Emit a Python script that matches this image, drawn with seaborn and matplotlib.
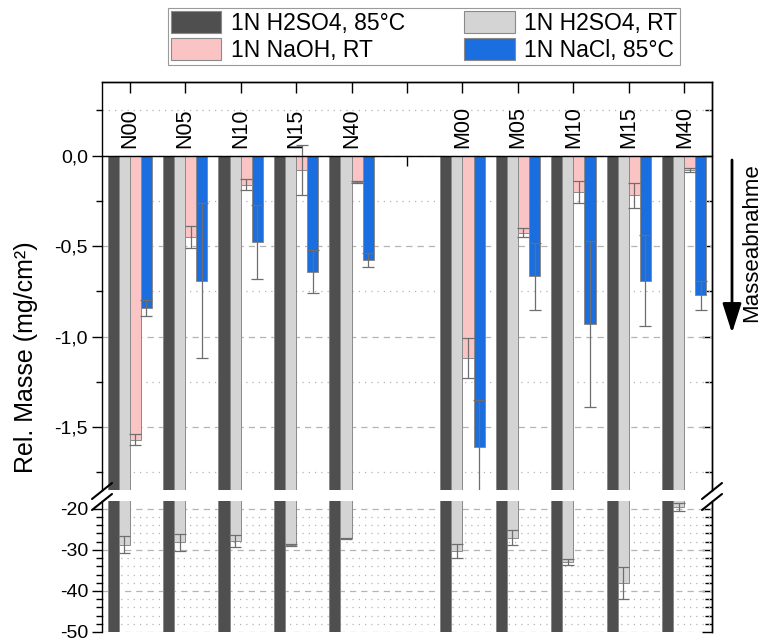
import numpy as np
import pandas as pd
import matplotlib
matplotlib.use("Agg")
import matplotlib.pyplot as plt
import seaborn as sns
from matplotlib.ticker import MultipleLocator, FuncFormatter
from matplotlib.patches import Patch, FancyArrowPatch, ArrowStyle
from matplotlib.lines import Line2D

# ---------------- data ----------------
categories = ["N00", "N05", "N10", "N15", "N40", "M00", "M05", "M10", "M15", "M40"]
gap_label = " "
order = categories[:5] + [gap_label] + categories[5:]

series = ["1N H2SO4, 85°C", "1N H2SO4, RT", "1N NaOH, RT", "1N NaCl, 85°C"]
colors = ["#4f4f4f", "#d4d4d4", "#fbc4c4", "#1a6ee0"]

h2so4_85 = [-52.0, -52.0, -52.0, -52.0, -52.0, -52.0, -52.0, -52.0, -52.0, -52.0]
h2so4_85_err = [0, 0, 0, 0, 0, 0, 0, 0, 0, 0]
h2so4_rt = [-28.7, -28.2, -27.9, -28.8, -27.2, -30.2, -27.0, -33.0, -38.1, -19.5]
h2so4_rt_err = [2.0, 2.0, 1.5, 0.2, 0.2, 1.7, 1.9, 0.8, 3.9, 1.0]
naoh = [-1.57, -0.45, -0.16, -0.08, -0.145, -1.12, -0.425, -0.20, -0.22, -0.08]
naoh_err = [0.03, 0.06, 0.03, 0.14, 0.005, 0.11, 0.025, 0.06, 0.07, 0.01]
nacl = [-0.84, -0.69, -0.475, -0.64, -0.575, -1.61, -0.665, -0.93, -0.69, -0.77]
nacl_err = [0.045, 0.43, 0.205, 0.12, 0.04, 0.26, 0.185, 0.46, 0.25, 0.08]

values = [h2so4_85, h2so4_rt, naoh, nacl]
errors = [h2so4_85_err, h2so4_rt_err, naoh_err, nacl_err]

rows = []
for s, vals, errs in zip(series, values, errors):
    for c, v, e in zip(categories, vals, errs):
        rows.append({"Probe": c, "Medium": s, "Wert": v, "Fehler": e})
df = pd.DataFrame(rows)

# ---------------- style ----------------
sns.set_style("ticks")
plt.rcParams["font.family"] = ["Liberation Sans", "DejaVu Sans"]
plt.rcParams["axes.edgecolor"] = "black"
plt.rcParams["axes.linewidth"] = 1.0
plt.rcParams["xtick.color"] = "black"
plt.rcParams["ytick.color"] = "black"
plt.rcParams["text.color"] = "black"

W, H = 761, 642
fig = plt.figure(figsize=(W / 100, H / 100), dpi=100)

left_px, right_px = 102, 712
top1_px, bot1_px = 82, 490
top2_px, bot2_px = 501, 632

def fx(px):
    return px / W

def fy(py):
    return 1 - py / H

ax1 = fig.add_axes([fx(left_px), fy(bot1_px), fx(right_px) - fx(left_px), fy(top1_px) - fy(bot1_px)])
ax2 = fig.add_axes([fx(left_px), fy(bot2_px), fx(right_px) - fx(left_px), fy(top2_px) - fy(bot2_px)])

edge = "#8a8a8a"
err_color = "#6e6e6e"

for ax in (ax1, ax2):
    sns.barplot(data=df, x="Probe", y="Wert", hue="Medium", order=order,
                hue_order=series, palette=colors, errorbar=None, width=0.8,
                saturation=1, edgecolor=edge, linewidth=0.7, legend=False,
                ax=ax, zorder=2)
    # error bars at the library's bar centres
    for cont, s in zip(ax.containers, series):
        sub = df[df["Medium"] == s].set_index("Probe")
        xs, ys, es = [], [], []
        for bar in cont.patches:
            xc = bar.get_x() + bar.get_width() / 2
            cat = order[int(round(xc))]
            if cat not in sub.index:
                continue
            e = sub.loc[cat, "Fehler"]
            if e <= 0:
                continue
            xs.append(xc)
            ys.append(sub.loc[cat, "Wert"])
            es.append(e)
        if xs:
            ax.errorbar(xs, ys, yerr=es, fmt="none", ecolor=err_color,
                        elinewidth=0.9, capsize=4.5, capthick=0.9, zorder=3)
    ax.set_xlabel("")
    ax.set_ylabel("")
    ax.set_xlim(-0.5, len(order) - 0.5)
    ax.set_axisbelow(True)

# ---------------- upper panel ----------------
ax1.set_ylim(-1.847, 0.407)
ax1.spines["bottom"].set_position(("data", 0))
ax1.spines["bottom"].set_zorder(4)
for sp in ("top", "left", "right", "bottom"):
    ax1.spines[sp].set_visible(True)
    ax1.spines[sp].set_color("black")
ax1.set_xticks(range(len(order)))
ax1.tick_params(axis="x", direction="out", length=7, width=1, labelbottom=False)
ax1.yaxis.set_major_locator(MultipleLocator(0.5))
ax1.yaxis.set_minor_locator(MultipleLocator(0.25))

def comma_fmt(v, p):
    if abs(v) < 1e-9:
        v = 0.0
    return f"{v:.1f}".replace(".", ",")

ax1.yaxis.set_major_formatter(FuncFormatter(comma_fmt))
ax1.tick_params(axis="y", which="major", direction="out", length=7, width=1, labelsize=14, pad=3)
ax1.tick_params(axis="y", which="minor", direction="out", length=4, width=1)
ax1.yaxis.grid(True, which="major", ls=(0, (5, 4)), color="#b4b4b4", lw=0.9)
ax1.yaxis.grid(True, which="minor", ls=(0, (1, 4)), color="#b4b4b4", lw=0.9)

sec_top = ax1.secondary_xaxis("top")
sec_top.set_xticks(range(len(order)))
sec_top.tick_params(direction="in", length=8, width=1, labeltop=False)
sec_r1 = ax1.secondary_yaxis("right")
sec_r1.yaxis.set_major_locator(MultipleLocator(0.5))
sec_r1.yaxis.set_minor_locator(MultipleLocator(0.25))
sec_r1.tick_params(which="both", direction="in", length=7, width=1, labelright=False)
sec_r1.tick_params(which="minor", length=5)

for xt, name in zip(ax1.get_xticks(), order):
    if name.strip():
        ax1.text(xt, 0.045, name, rotation=90, ha="center", va="bottom", fontsize=15.5)

# ---------------- lower panel ----------------
ax2.set_ylim(-50, -18.1)
ax2.spines["top"].set_visible(False)
ax2.spines["bottom"].set_visible(False)
ax2.spines["left"].set_color("black")
ax2.spines["right"].set_color("black")
ax2.tick_params(axis="x", bottom=False, labelbottom=False)
ax2.yaxis.set_major_locator(MultipleLocator(10))
ax2.yaxis.set_minor_locator(MultipleLocator(2))
ax2.yaxis.set_major_formatter(FuncFormatter(lambda v, p: f"{v:.0f}"))
ax2.tick_params(axis="y", which="major", direction="out", length=7, width=1, labelsize=14, pad=3)
ax2.tick_params(axis="y", which="minor", direction="out", length=4, width=1)
ax2.yaxis.grid(True, which="major", ls=(0, (5, 4)), color="#b4b4b4", lw=0.9)
ax2.yaxis.grid(True, which="minor", ls=(0, (1, 4)), color="#b4b4b4", lw=0.9)
sec_r2 = ax2.secondary_yaxis("right")
sec_r2.yaxis.set_major_locator(MultipleLocator(10))
sec_r2.yaxis.set_minor_locator(MultipleLocator(2))
sec_r2.tick_params(which="both", direction="in", length=7, width=1, labelright=False)
sec_r2.tick_params(which="minor", length=5)

# ---------------- break marks ----------------
for xs in (left_px, right_px):
    for yc in (bot1_px + 1, top2_px + 1):
        fig.add_artist(Line2D([fx(xs - 10), fx(xs + 10)], [fy(yc + 8), fy(yc - 8)],
                              color="black", lw=1.5, transform=fig.transFigure))

# ---------------- labels, arrow ----------------
fig.text(fx(26), fy(357), "Rel. Masse (mg/cm²)", rotation=90, ha="center",
         va="center", fontsize=18)

arrow = FancyArrowPatch((fx(732), fy(160)), (fx(732), fy(333)), transform=fig.transFigure,
                        arrowstyle=ArrowStyle("-|>", head_length=1.0, head_width=0.32),
                        mutation_scale=18, lw=2, color="black", shrinkA=0, shrinkB=0)
fig.add_artist(arrow)
fig.text(fx(752), fy(243), "Masseabnahme", rotation=90, ha="center", va="center",
         fontsize=16)

# legend filled column-wise: col 1 = H2SO4 85°C / NaOH RT, col 2 = H2SO4 RT / NaCl 85°C
leg_idx = [0, 2, 1, 3]
handles = [Patch(facecolor=colors[i], edgecolor=edge, linewidth=0.8) for i in leg_idx]
labels = [series[i] for i in leg_idx]
leg = fig.legend(handles, labels, ncol=2, loc="center", bbox_to_anchor=(fx(424), fy(36.5)),
                 fontsize=16.5, frameon=True, fancybox=False, framealpha=1,
                 edgecolor="#9a9a9a", handlelength=2.2, handleheight=1.1,
                 handletextpad=0.4, columnspacing=2.6, borderpad=0.15, labelspacing=0.15)
leg.get_frame().set_linewidth(0.8)

fig.savefig("out.png", dpi=100, facecolor="white")
